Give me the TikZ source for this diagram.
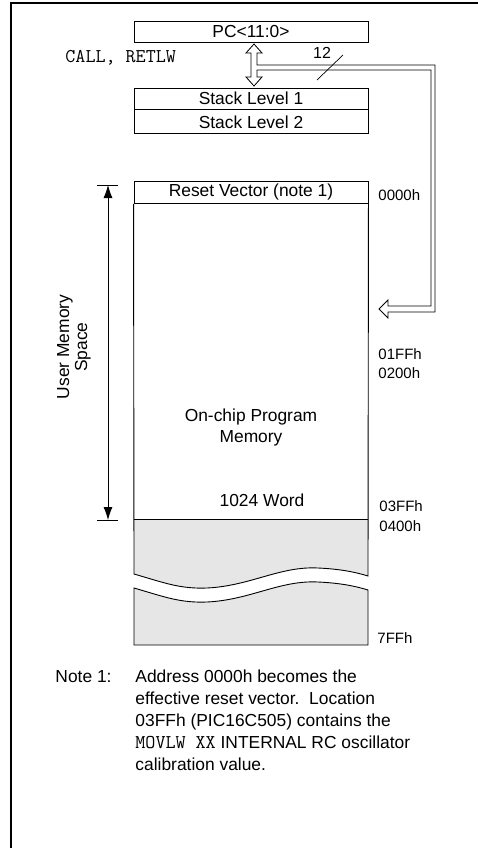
\documentclass[tikz,border=0pt]{standalone}
\usepackage{fontspec}
\setmainfont{Liberation Sans}
\usetikzlibrary{arrows.meta,calc}
\definecolor{memgray}{RGB}{230,230,230}

\begin{document}
\begin{tikzpicture}[x=1pt, y=-1pt, line width=0.9pt,
	font=\fontsize{17.4}{21}\selectfont,
	regbox/.style={draw, minimum width=234pt, minimum height=21pt, inner sep=0pt},
	addr/.style={anchor=west, inner sep=0pt, font=\fontsize{15}{18}\selectfont},
	dimarrow/.style={{Latex[length=13pt,width=9pt]}-{Latex[length=13pt,width=9pt]}, line width=0.8pt}]
\useasboundingbox (0,0) rectangle (478,848);

% frame
\draw[line width=2.5pt] (478,3) -- (11,3) -- (11,848);

% PC and stack
\node[regbox] (pc) at (251,32) {PC<11:0>};
\node[regbox, minimum height=21pt] (stack1) at (251,98.5) {Stack Level 1};
\node[regbox, minimum height=24pt, anchor=north] (stack2) at (stack1.south) {Stack Level 2};
\node[anchor=west, inner sep=0pt, font=\fontsize{19.5}{21}\ttfamily] (call) at (65,58) {CALL, RETLW};

% hollow bus PC <-> stack, and PC -> memory
\draw[fill=white, line width=0.8pt] (254,44) -- (262,53) -- (257,53) -- (257,65) -- (435,65)
	-- (435,312) -- (388,312) -- (388,318) -- (379,309) -- (388,300) -- (388,306)
	-- (431,306) -- (431,70) -- (257,70) -- (257,77) -- (262,77) -- (254,86)
	-- (246,77) -- (251,77) -- (251,53) -- (246,53) -- cycle;
\draw[line width=0.7pt] (317,80) -- (343,55);
\node[inner sep=0pt, font=\fontsize{16}{18}\selectfont] (width) at (322,52.5) {12};

% memory
\fill[memgray] (134,519) -- (368,519) -- (368,576) .. controls (355,572) and (340,569) .. (318,568)
	.. controls (280,566) and (250,586) .. (207,588) .. controls (180,589) and (165,583) .. (134,574) -- cycle;
\fill[memgray] (134,588) .. controls (165,597) and (180,603) .. (207,602) .. controls (250,600) and (280,580) .. (318,582)
	.. controls (340,583) and (355,586) .. (368,590) -- (368,645) -- (134,645) -- cycle;
\node[regbox, minimum height=22pt, anchor=north] (reset) at (251,181) {Reset Vector (note 1)};
\draw (reset.south west) -- (134,574) .. controls (165,583) and (180,589) .. (207,588)
	.. controls (250,586) and (280,566) .. (318,568) .. controls (340,569) and (355,572) .. (368,576) -- (reset.south east);
\draw (134,588) .. controls (165,597) and (180,603) .. (207,602) .. controls (250,600) and (280,580) .. (318,582)
	.. controls (340,583) and (355,586) .. (368,590) -- (368,645) -- (134,645) -- cycle;
\draw (134,519) -- (368,519);

\node[align=center, font=\fontsize{17.4}{21}\selectfont] (onchip) at (251,427) {On-chip Program\\Memory};
\node (words) at (262,500) {1024 Word};

\node[addr] (a0000) at (378,195) {0000h};
\node[addr] (a01ff) at (378,354) {01FFh};
\node[addr] (a0200) at (378,373) {0200h};
\node[addr] (a03ff) at (379,506) {03FFh};
\node[addr] (a0400) at (379,526) {0400h};
\node[addr] (a7ff) at (377,638) {7FFh};

% user memory space
\coordinate (utop) at (108,185);
\coordinate (ubot) at (108,520);
\draw[line width=0.8pt] (97,185) -- (118,185);
\draw[line width=0.8pt] (97,520) -- (118,520);
\draw[dimarrow] (utop) -- (ubot);
\node[rotate=90, align=center, font=\fontsize{17.4}{18}\selectfont] (uspace) at (74,347) {User Memory\\Space};

% note
\node[anchor=north west, inner sep=0pt, font=\fontsize{17.4}{22}\selectfont] (notehead) at (55,667) {\strut Note 1:};
\node[anchor=north west, inner sep=0pt, align=left, font=\fontsize{17.4}{22}\selectfont] (note) at (135,667)
	{\strut Address 0000h becomes the\\effective reset vector.\ \ Location\\03FFh (PIC16C505) contains the\\{\fontsize{19.5}{22}\ttfamily MOVLW XX} INTERNAL RC oscillator\\calibration value.};
\end{tikzpicture}
\end{document}
